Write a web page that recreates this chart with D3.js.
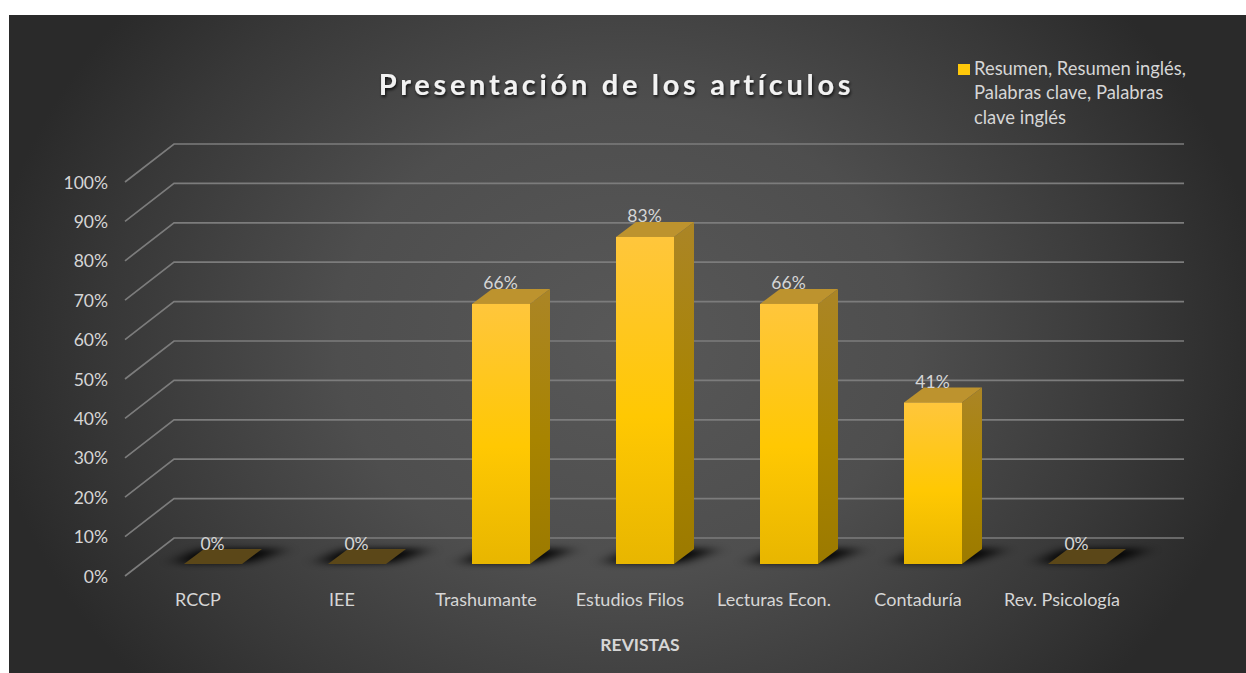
<!DOCTYPE html>
<html><head><meta charset="utf-8">
<script src="https://cdn.jsdelivr.net/npm/d3@7"></script>
<style>html,body{margin:0;padding:0;background:#fff;overflow:hidden}svg{display:block}text{font-family:Lato,"Open Sans",sans-serif}</style>
</head><body><svg id="c" width="1246" height="673"></svg>
<script>
const categories=["RCCP","IEE","Trashumante","Estudios Filos","Lecturas Econ.","Contaduría","Rev. Psicología"];
const values=[0,0,66,83,66,41,0];
const yTicks=[0,10,20,30,40,50,60,70,80,90,100];
const titleText="Presentación de los artículos";
const axisTitle="REVISTAS";
const legendLines=["Resumen, Resumen inglés,","Palabras clave, Palabras","clave inglés"];

const W=1246,H=673;
const svg=d3.select("#c");
const defs=svg.append("defs");
const rg=defs.append("radialGradient").attr("id","bg").attr("gradientUnits","userSpaceOnUse")
  .attr("cx",625).attr("cy",340).attr("r",640).attr("gradientTransform","translate(625 340) scale(1 0.82) translate(-625 -340)");
[[0,"#585858"],[0.45,"#4e4e4e"],[0.8,"#383838"],[1,"#2a2a2a"]].forEach(d=>rg.append("stop").attr("offset",d[0]).attr("stop-color",d[1]));
const lin=(id,stops)=>{const g=defs.append("linearGradient").attr("id",id).attr("x1",0).attr("x2",0).attr("y1",0).attr("y2",1);
  stops.forEach(d=>g.append("stop").attr("offset",d[0]).attr("stop-color",d[1]));};
lin("front",[[0,"#ffc63c"],[0.55,"#ffc802"],[1,"#e8b600"]]);
lin("side",[[0,"#ab8526"],[0.55,"#a88400"],[1,"#9c7a00"]]);
defs.append("filter").attr("id","blur").attr("x","-50%").attr("y","-200%").attr("width","200%").attr("height","500%")
  .append("feGaussianBlur").attr("stdDeviation","9 3.5");
const ts=defs.append("filter").attr("id","ts").attr("x","-5%").attr("y","-30%").attr("width","110%").attr("height","170%");
ts.append("feDropShadow").attr("dx",1).attr("dy",2).attr("stdDeviation",1.5).attr("flood-color","#000").attr("flood-opacity",0.75);

svg.append("rect").attr("x",9).attr("y",15).attr("width",W-9).attr("height",H-15).attr("fill","url(#bg)");

// scales
const x=d3.scaleBand().domain(categories).range([141,1149]).padding(0);
const barW=58;
const barOff=(x.bandwidth()-barW)/2;
const base=564, wallDx=49, wallDy=-38;
const gridFrontY=576, plotH=394;
const yHeight=d3.scaleLinear().domain([0,100]).range([0,plotH]);
const gridRight=1184, gridFrontX=125;
const depthX=20, depthY=15;
const textCol="#d6d6d6";

// gridlines
svg.append("g").selectAll("path").data(yTicks).join("path")
  .attr("fill","none").attr("stroke","#7c7c7c").attr("stroke-width",1.7)
  .attr("d",d=>{const yf=gridFrontY-yHeight(d);return d3.line()([[gridFrontX,yf],[gridFrontX+wallDx,yf+wallDy],[gridRight,yf+wallDy]]);});

// y tick labels
svg.append("g").selectAll("text").data(yTicks).join("text")
  .attr("x",108).attr("y",d=>gridFrontY-yHeight(d)+6.5).attr("text-anchor","end")
  .attr("font-size",17.5).attr("fill",textCol).text(d=>d+"%");

const bars=categories.map((c,i)=>({c,v:values[i],x0:x(c)+barOff}));
// shadows
svg.append("g").selectAll("path").data(bars).join("path")
  .attr("fill","#060606").attr("filter","url(#blur)")
  .attr("d",d=>`M${d.x0-12},${base-1}H${d.x0+barW+6}L${d.x0+barW+depthX+24},${base-depthY}H${d.x0+depthX-4}Z`);
// side, top, front
const g=svg.append("g");
g.selectAll(".side").data(bars.filter(d=>d.v>0)).join("path").attr("class","side").attr("fill","url(#side)")
  .attr("d",d=>{const t=base-yHeight(d.v),r=d.x0+barW;return `M${r},${base}L${r+depthX},${base-depthY}V${t-depthY}L${r},${t}Z`;});
g.selectAll(".top").data(bars).join("path").attr("class","top")
  .attr("fill",d=>d.v>0?"#bd932e":"#5b4718")
  .attr("d",d=>{const t=base-yHeight(d.v),r=d.x0+barW;return `M${d.x0},${t}H${r}L${r+depthX},${t-depthY}H${d.x0+depthX}Z`;});
g.selectAll(".front").data(bars.filter(d=>d.v>0)).join("rect").attr("class","front").attr("fill","url(#front)")
  .attr("x",d=>d.x0).attr("width",barW).attr("y",d=>base-yHeight(d.v)).attr("height",d=>yHeight(d.v));

// data labels
svg.append("g").selectAll("text").data(bars).join("text")
  .attr("x",d=>d.x0+barW/2-0.5).attr("y",d=>base-yHeight(d.v)-14.5).attr("text-anchor","middle")
  .attr("font-size",17.5).attr("fill",textCol).text(d=>d.v+"%");

// category labels
svg.append("g").selectAll("text").data(bars).join("text")
  .attr("x",d=>d.x0+14).attr("y",606).attr("text-anchor","middle")
  .attr("font-size",18).attr("fill",textCol).text(d=>d.c);

svg.append("text").attr("x",640).attr("y",651).attr("text-anchor","middle").attr("font-size",17.5).attr("font-weight",700).attr("fill",textCol).text(axisTitle);

svg.append("text").attr("x",616.5).attr("y",95).attr("text-anchor","middle").attr("font-size",29).attr("font-weight",700)
  .attr("letter-spacing",3.7).attr("fill","#f2f2f2").attr("filter","url(#ts)").text(titleText);

// legend
svg.append("rect").attr("x",958).attr("y",64).attr("width",12).attr("height",11).attr("fill","#ffc80a");
svg.append("g").selectAll("text").data(legendLines).join("text")
  .attr("x",974).attr("y",(d,i)=>74.5+i*24.5).attr("font-size",18.4).attr("fill",textCol).text(d=>d);
</script></body></html>
